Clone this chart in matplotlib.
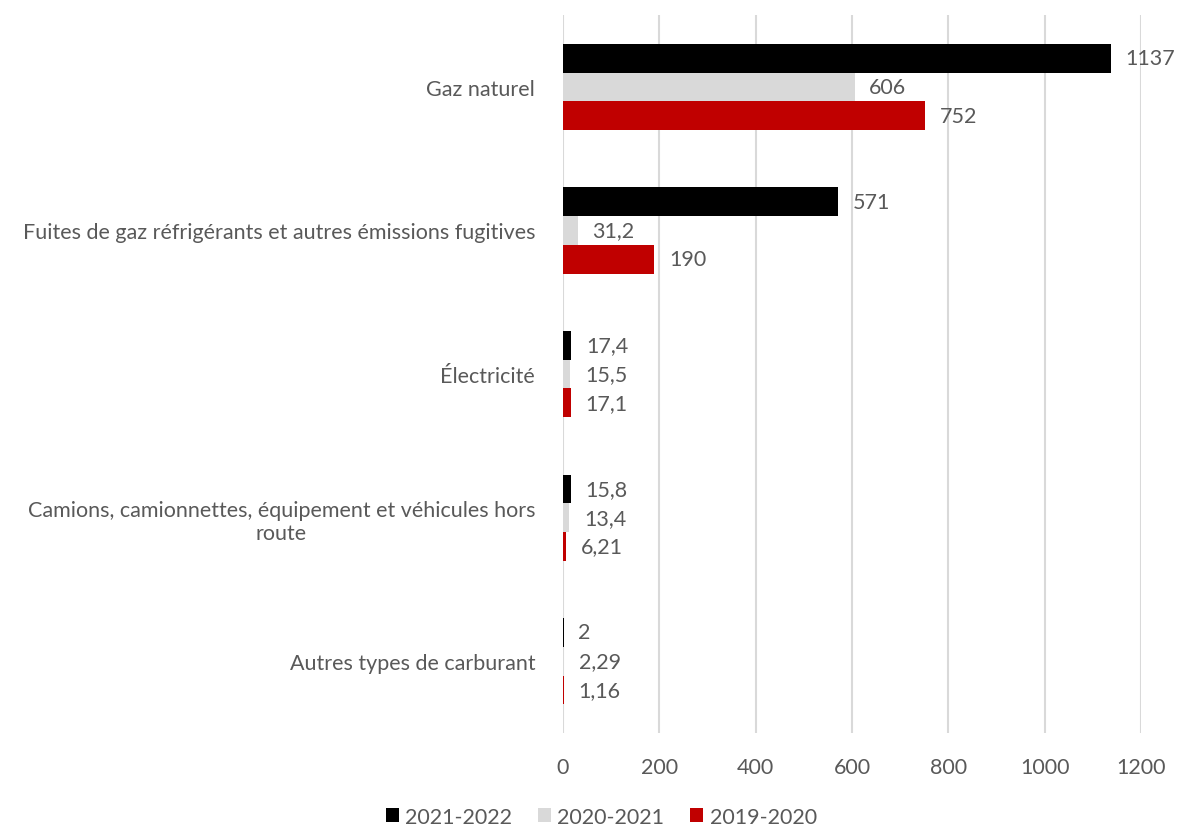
import matplotlib.pyplot as plt
import numpy as np

plt.rcParams['font.family'] = ['Lato', 'DejaVu Sans']

categories = ['Gaz naturel',
              'Fuites de gaz réfrigérants et autres émissions fugitives',
              'Électricité',
              'Camions, camionnettes, équipement et véhicules hors\nroute',
              'Autres types de carburant']
series_names = ['2021-2022', '2020-2021', '2019-2020']
values_2122 = [1137, 571, 17.4, 15.8, 2]
values_2021 = [606, 31.2, 15.5, 13.4, 2.29]
values_1920 = [752, 190, 17.1, 6.21, 1.16]
colors = ['#000000', '#D9D9D9', '#C00000']
txt_color = '#595959'
fs = 15.5

fig = plt.figure(figsize=(11.79, 8.29), dpi=100)
ax = fig.add_axes([0.4775, 0.1146, 0.4903, 0.866])

index = np.arange(len(categories))
height = 0.2
all_series = [values_2122, values_2021, values_1920]
for k, (vals, name, col) in enumerate(zip(all_series, series_names, colors)):
    pos = index + (k - 1) * height
    ax.barh(pos, vals, height, color=col, label=name, zorder=3)
    for p, v in zip(pos, vals):
        txt = ('%g' % v).replace('.', ',')
        ax.text(v + 30, p, txt, ha='left', va='center', fontsize=fs, color=txt_color)

ax.set_xlim(0, 1200)
ax.set_ylim(len(categories) - 0.5, -0.5)
ax.set_xticks(range(0, 1201, 200))
ax.set_yticks(index)
ax.set_yticklabels(categories, fontsize=fs, color=txt_color, multialignment='center')
ax.tick_params(axis='x', labelsize=fs, colors=txt_color, length=0, pad=17)
ax.tick_params(axis='y', length=0, pad=20)
ax.grid(axis='x', color='#D9D9D9', linewidth=1.5, zorder=0)
for s in ax.spines.values():
    s.set_visible(False)

leg = fig.legend(loc='lower center', bbox_to_anchor=(0.51, -0.022), ncol=3, frameon=False,
                 fontsize=fs, handlelength=0.6, handleheight=0.6, columnspacing=1.2, handletextpad=0.3)
for t in leg.get_texts():
    t.set_color(txt_color)

fig.savefig('out.png', dpi=100)
